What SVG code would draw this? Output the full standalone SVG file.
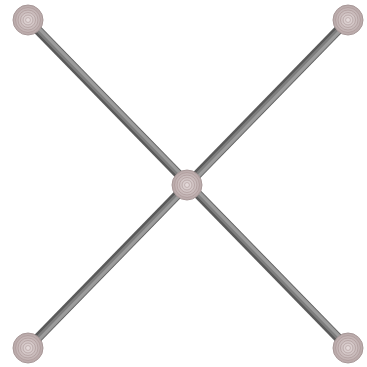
<svg xmlns="http://www.w3.org/2000/svg" width="367" height="367" viewBox="0 0 367 367">
<defs>
<radialGradient id="ng" cx="0.5" cy="0.5" r="0.5">
<stop offset="0" stop-color="#e6dcdc"/>
<stop offset="1" stop-color="#b8a8a8"/>
</radialGradient>
<g id="node">
<circle r="15" fill="url(#ng)" stroke="#a89898" stroke-width="1"/>
<circle r="12.5" fill="none" stroke="#a89494" stroke-width="0.6"/>
<circle r="10" fill="none" stroke="#a89494" stroke-width="0.6"/>
<circle r="7.5" fill="none" stroke="#a89494" stroke-width="0.6"/>
<circle r="5" fill="none" stroke="#a89494" stroke-width="0.6"/>
<circle r="2.5" fill="none" stroke="#b09c9c" stroke-width="0.6"/>
</g>
</defs>
<style>
.e1{stroke:#5a5a5a;stroke-width:9}
.e2{stroke:#7e7e7e;stroke-width:6}
.e3{stroke:#9c9c9c;stroke-width:3}
</style>
<g id="connectors">
<line class="e1" x1="28" y1="20" x2="348" y2="348"/>
<line class="e2" x1="28.7" y1="19.3" x2="348.7" y2="347.3"/>
<line class="e3" x1="29.4" y1="18.6" x2="349.4" y2="346.6"/>
<line class="e1" x1="348" y1="20" x2="28" y2="348"/>
<line class="e2" x1="348.7" y1="20.7" x2="28.7" y2="348.7"/>
<line class="e3" x1="349.4" y1="21.4" x2="29.4" y2="349.4"/>
</g>
<g id="n1"><use href="#node" x="28" y="20"/></g>
<g id="n2"><use href="#node" x="348" y="20"/></g>
<g id="n3"><use href="#node" x="187" y="185"/></g>
<g id="n4"><use href="#node" x="28" y="348"/></g>
<g id="n5"><use href="#node" x="348" y="348"/></g>
</svg>
